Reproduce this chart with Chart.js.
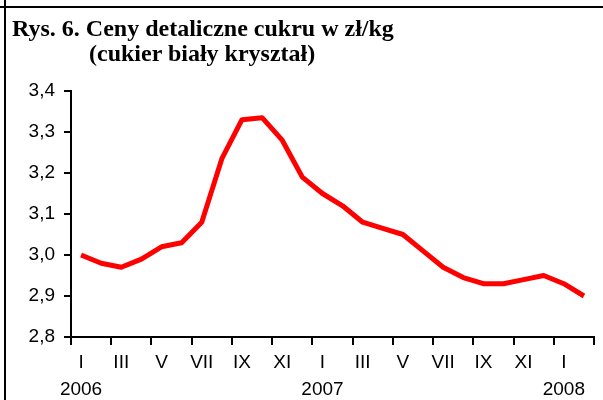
<!DOCTYPE html>
<html lang="pl">
<head>
<meta charset="utf-8">
<script src="https://cdn.jsdelivr.net/npm/chart.js@4/dist/chart.umd.min.js"></script>
<style>
  html, body { margin: 0; padding: 0; background: #fff; }
  #wrap { position: relative; width: 603px; height: 400px; overflow: hidden; }
  #chart { position: absolute; left: 0; top: 0; }
  .frame-top { position: absolute; left: 0; top: 6px; width: 603px; height: 2px; background: #000; }
  .frame-left { position: absolute; left: 4px; top: 0; width: 2px; height: 400px; background: #000; }
  .title {
    position: absolute; font-family: "Liberation Serif", "Times New Roman", serif;
    font-weight: bold; font-size: 24px; color: #000; white-space: nowrap; line-height: 1;
  }
  #t1 { left: 12px; top: 16px; }
  #t2 { left: 89px; top: 41px; }
</style>
</head>
<body>
<div id="wrap">
  <canvas id="chart" width="603" height="400"></canvas>
  <div class="frame-top"></div>
  <div class="frame-left"></div>
  <div class="title" id="t1">Rys. 6. Ceny detaliczne cukru w zł/kg</div>
  <div class="title" id="t2">(cukier biały kryształ)</div>
</div>
<script>
// monthly retail sugar price, Jan 2006 - Feb 2008
const months = ["I", "II", "III", "IV", "V", "VI", "VII", "VIII", "IX", "X", "XI", "XII",
                "I", "II", "III", "IV", "V", "VI", "VII", "VIII", "IX", "X", "XI", "XII",
                "I", "II"];
const years = ["2006", "2007", "2008"];
const prices = [3.00, 2.98, 2.97, 2.99, 3.02, 3.03, 3.08, 3.235, 3.33, 3.335, 3.28, 3.19,
                3.15, 3.12, 3.08, 3.065, 3.05, 3.01, 2.97, 2.945, 2.93, 2.93, 2.94, 2.95,
                2.93, 2.90];
const yTicks = [2.8, 2.9, 3.0, 3.1, 3.2, 3.3, 3.4];

const font = { family: "'Liberation Sans', Arial, sans-serif", size: 19 };

new Chart(document.getElementById("chart"), {
  type: "line",
  data: {
    labels: months,
    datasets: [{
      data: prices,
      borderColor: "#ff0000",
      borderWidth: 5,
      pointRadius: 0,
      tension: 0,
      borderJoinStyle: "round",
      fill: false
    }]
  },
  options: {
    responsive: false,
    animation: false,
    devicePixelRatio: 1,
    layout: { padding: { top: 91, right: 9, bottom: 0, left: 0 } },
    plugins: { legend: { display: false }, tooltip: { enabled: false } },
    scales: {
      x: {
        offset: true,
        afterFit: s => { s.height = 63; },
        border: { color: "#000", width: 2 },
        grid: {
          offset: true,
          drawOnChartArea: false,
          tickLength: 8,
          lineWidth: 2,
          color: c => (c.index === undefined || c.index % 2 === 0) ? "#000" : "rgba(0,0,0,0)"
        },
        ticks: {
          autoSkip: false,
          maxRotation: 0,
          padding: 4,
          color: "#000",
          font: { ...font, lineHeight: 1.42 },
          callback: (v, i) => {
            if (i % 2) return "";
            return i % 12 === 0 ? [months[i], years[i / 12]] : months[i];
          }
        }
      },
      y: {
        min: yTicks[0],
        max: yTicks[yTicks.length - 1],
        afterFit: s => { s.width = 71; },
        afterBuildTicks: s => { s.ticks = yTicks.map(v => ({ value: v })); },
        border: { color: "#000", width: 2 },
        grid: { drawOnChartArea: false, tickLength: 7, lineWidth: 2, color: "#000" },
        ticks: {
          padding: 9,
          color: "#000",
          font: font,
          callback: v => v.toFixed(1).replace(".", ",")
        }
      }
    }
  }
});
</script>
</body>
</html>
